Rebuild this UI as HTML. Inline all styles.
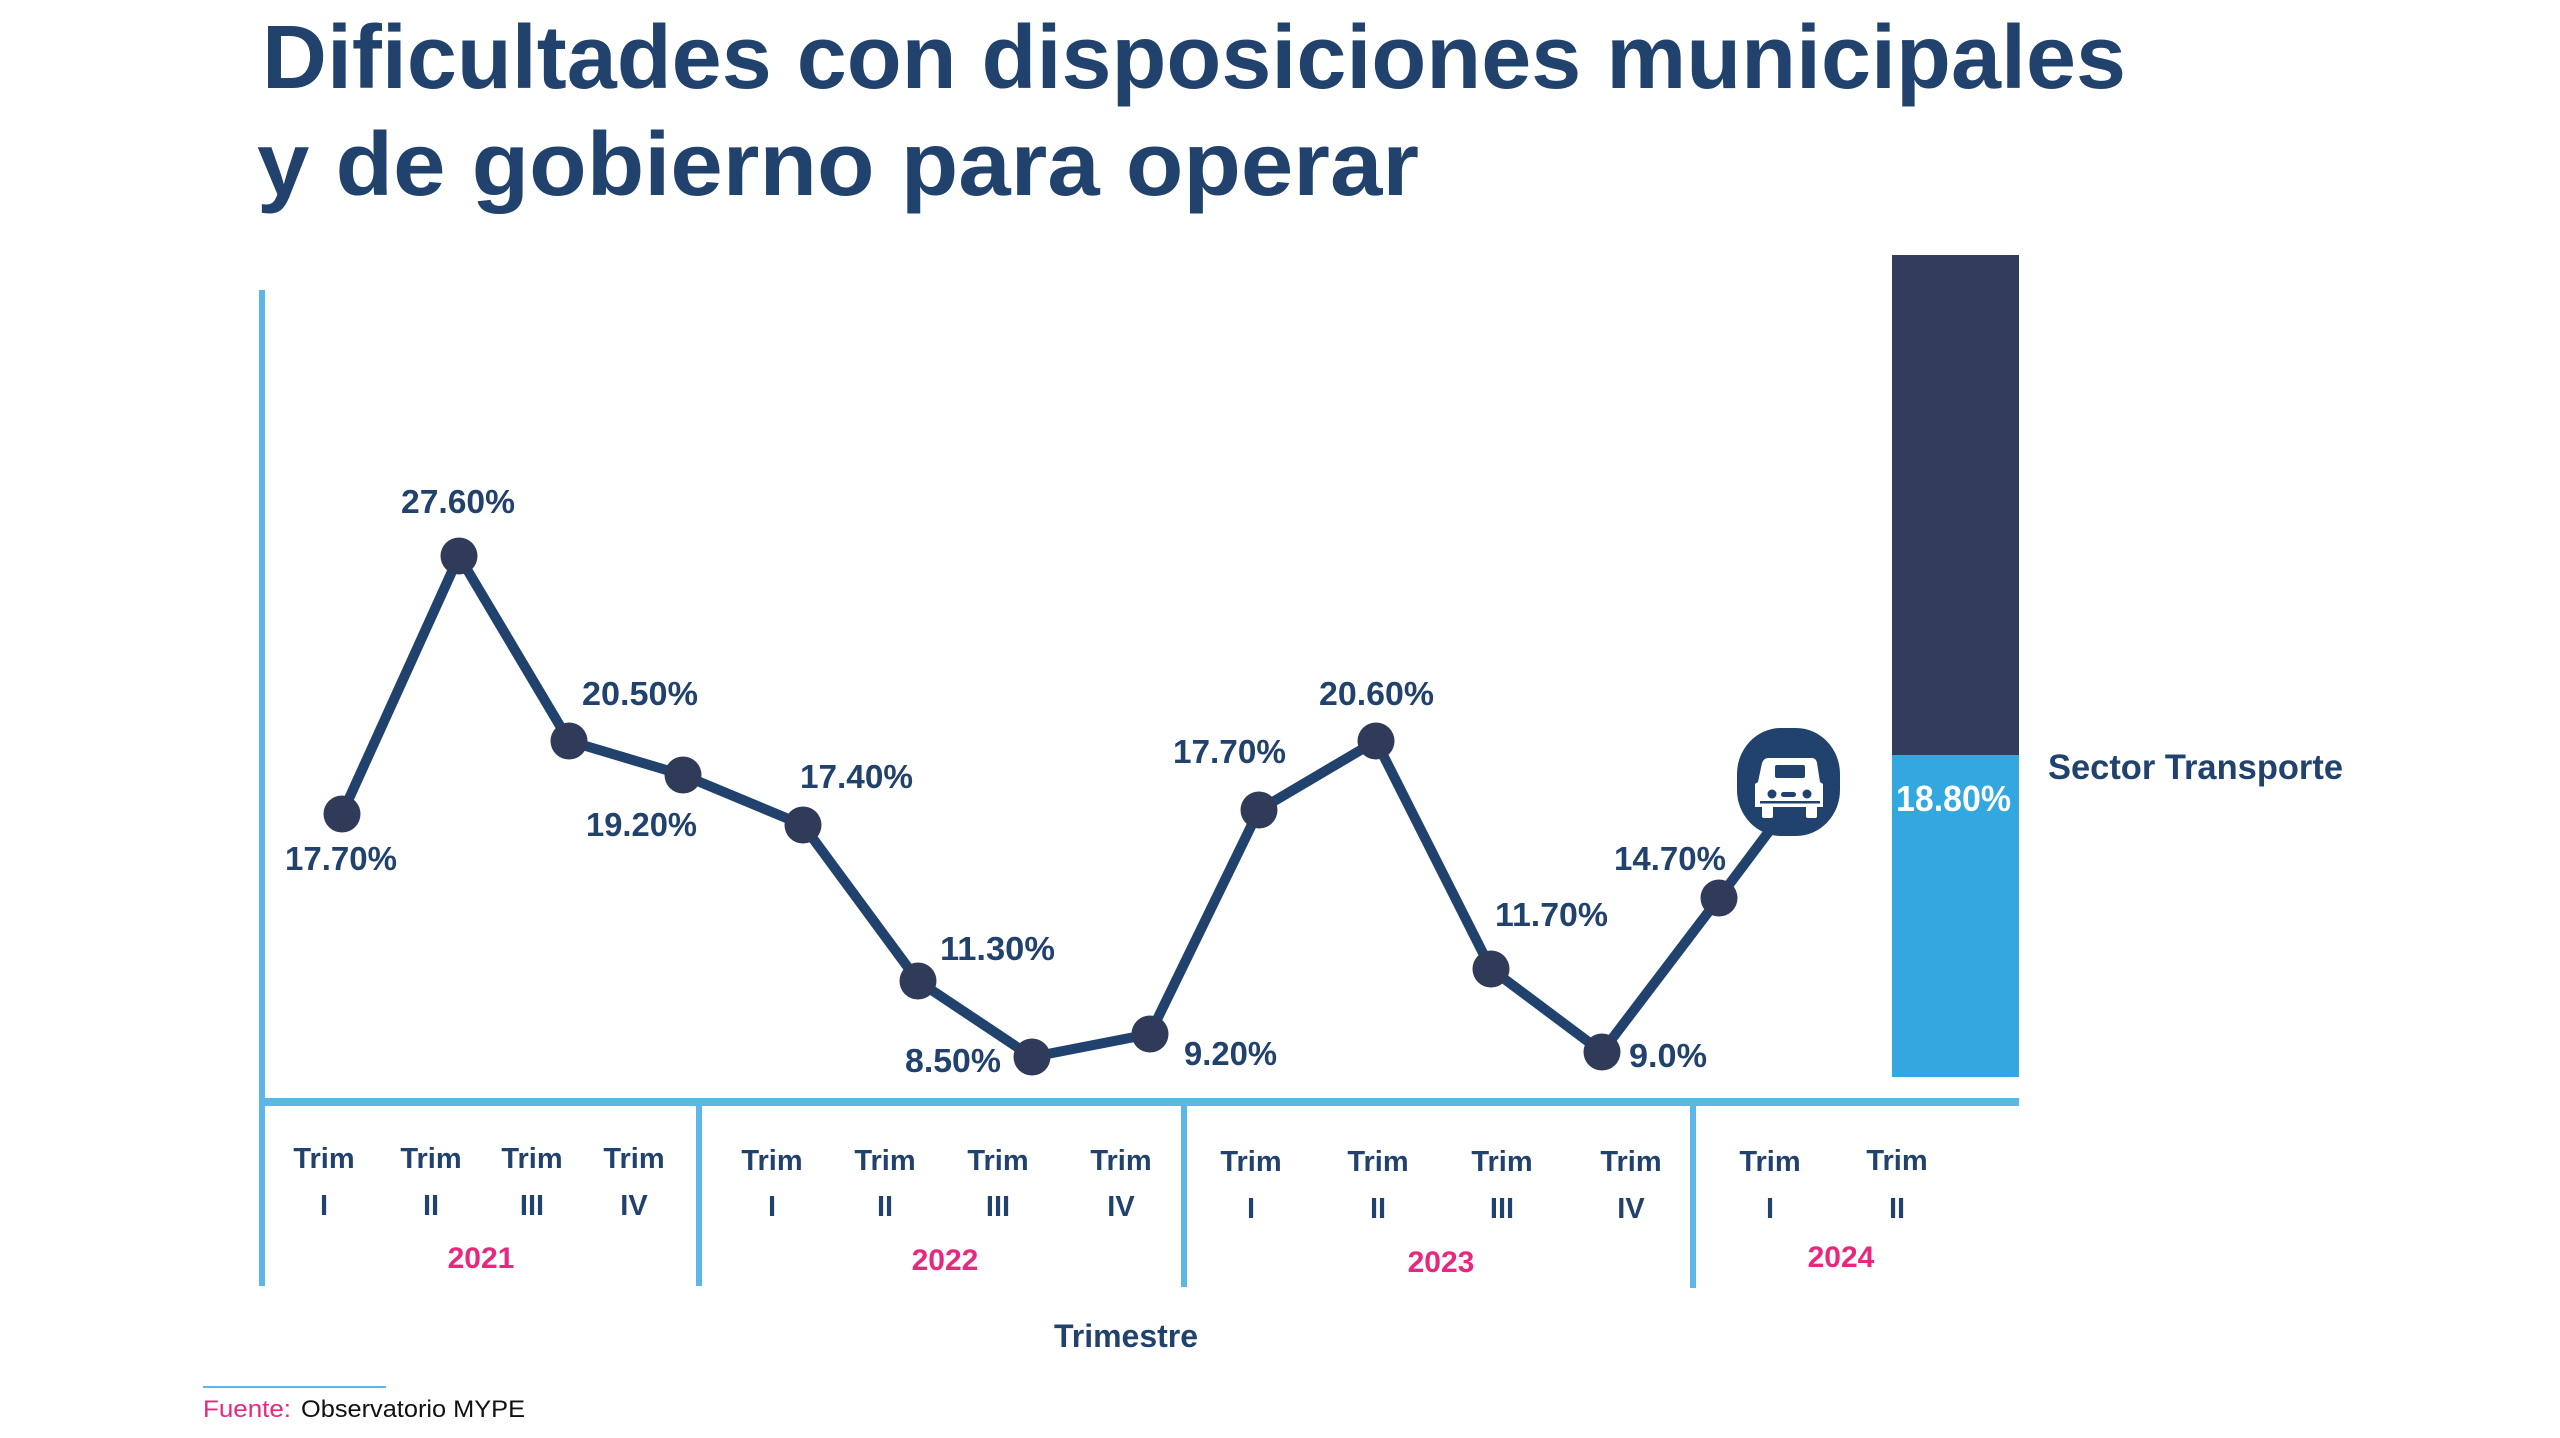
<!DOCTYPE html>
<html><head><meta charset="utf-8">
<style>
html,body{margin:0;padding:0;background:#fff;}
svg{display:block;}
text{font-family:"Liberation Sans",Arial,sans-serif;}
</style></head>
<body>
<svg width="2560" height="1438" viewBox="0 0 2560 1438" xmlns="http://www.w3.org/2000/svg">
<rect width="2560" height="1438" fill="#ffffff"/>
<!-- Title -->
<text x="262" y="88" font-size="90" font-weight="bold" fill="#22426e" textLength="1864" lengthAdjust="spacingAndGlyphs">Dificultades con disposiciones municipales</text>
<text x="257" y="195" font-size="90" font-weight="bold" fill="#22426e" textLength="1162" lengthAdjust="spacingAndGlyphs">y de gobierno para operar</text>

<!-- Axes -->
<rect x="259" y="290" width="6" height="996" fill="#5db7e6"/>
<rect x="259" y="1098" width="1760" height="8" fill="#5db7e6"/>
<rect x="696" y="1100" width="6" height="186" fill="#5db7e6"/>
<rect x="1181" y="1100" width="6" height="187" fill="#5db7e6"/>
<rect x="1690" y="1100" width="6" height="188" fill="#5db7e6"/>

<!-- Bar -->
<rect x="1892" y="255" width="127" height="500" fill="#323d5b"/>
<rect x="1892" y="755" width="127" height="322" fill="#33a7df"/>
<text x="1896" y="811" font-size="36" font-weight="bold" fill="#ffffff" textLength="115" lengthAdjust="spacingAndGlyphs">18.80%</text>
<text x="2048" y="779" font-size="35" font-weight="bold" fill="#22426e" textLength="295" lengthAdjust="spacingAndGlyphs">Sector Transporte</text>

<!-- Line -->
<polyline fill="none" stroke="#22426e" stroke-width="10" stroke-linejoin="round"
 points="342,814 459,556 569,741 683,775 803,825 918,981 1032,1057 1150,1034 1259,810 1376,741 1491,969 1602,1052 1719,898 1800,790"/>
<g fill="#303b5a">
<circle cx="342" cy="814" r="18.5"/>
<circle cx="459" cy="556" r="18.5"/>
<circle cx="569" cy="741" r="18.5"/>
<circle cx="683" cy="775" r="18.5"/>
<circle cx="803" cy="825" r="18.5"/>
<circle cx="918" cy="981" r="18.5"/>
<circle cx="1032" cy="1057" r="18.5"/>
<circle cx="1150" cy="1034" r="18.5"/>
<circle cx="1259" cy="810" r="18.5"/>
<circle cx="1376" cy="741" r="18.5"/>
<circle cx="1491" cy="969" r="18.5"/>
<circle cx="1602" cy="1052" r="18.5"/>
<circle cx="1719" cy="898" r="18.5"/>
</g>

<!-- Car icon -->
<rect x="1737" y="728" width="103" height="108" rx="44" ry="46" fill="#22426e"/>
<g fill="#ffffff">
<path d="M1768,758 L1812,758 Q1816,758 1817,763 L1820,782 L1823,784 L1823,807 L1755,807 L1755,784 L1758,782 L1762,763 Q1764,758 1768,758 Z"/>
<rect x="1762" y="805" width="11" height="13" rx="2"/>
<rect x="1806" y="805" width="11" height="13" rx="2"/>
</g>
<rect x="1775" y="765" width="30" height="13" rx="2" fill="#22426e"/>
<circle cx="1772" cy="794" r="4.5" fill="#22426e"/>
<circle cx="1807" cy="794" r="4.5" fill="#22426e"/>
<rect x="1781" y="792" width="15" height="5" rx="2.5" fill="#22426e"/>
<rect x="1760" y="801" width="60" height="2.5" fill="#22426e"/>

<!-- Data labels -->
<g font-size="33" font-weight="bold" fill="#22426e">
<text x="285" y="870" textLength="112" lengthAdjust="spacingAndGlyphs">17.70%</text>
<text x="401" y="513" textLength="114" lengthAdjust="spacingAndGlyphs">27.60%</text>
<text x="582" y="705" textLength="116" lengthAdjust="spacingAndGlyphs">20.50%</text>
<text x="586" y="836" textLength="111" lengthAdjust="spacingAndGlyphs">19.20%</text>
<text x="800" y="788" textLength="113" lengthAdjust="spacingAndGlyphs">17.40%</text>
<text x="940" y="960" textLength="115" lengthAdjust="spacingAndGlyphs">11.30%</text>
<text x="905" y="1072" textLength="96" lengthAdjust="spacingAndGlyphs">8.50%</text>
<text x="1184" y="1065" textLength="93" lengthAdjust="spacingAndGlyphs">9.20%</text>
<text x="1173" y="763" textLength="113" lengthAdjust="spacingAndGlyphs">17.70%</text>
<text x="1319" y="705" textLength="115" lengthAdjust="spacingAndGlyphs">20.60%</text>
<text x="1495" y="926" textLength="113" lengthAdjust="spacingAndGlyphs">11.70%</text>
<text x="1629" y="1067" textLength="78" lengthAdjust="spacingAndGlyphs">9.0%</text>
<text x="1614" y="870" textLength="112" lengthAdjust="spacingAndGlyphs">14.70%</text>
</g>

<!-- Tick labels -->
<g font-size="29" font-weight="bold" fill="#22426e" text-anchor="middle">
<text x="324" y="1168">Trim</text><text x="324" y="1215">I</text>
<text x="431" y="1168">Trim</text><text x="431" y="1215">II</text>
<text x="532" y="1168">Trim</text><text x="532" y="1215">III</text>
<text x="634" y="1168">Trim</text><text x="634" y="1215">IV</text>
<text x="772" y="1170">Trim</text><text x="772" y="1216">I</text>
<text x="885" y="1170">Trim</text><text x="885" y="1216">II</text>
<text x="998" y="1170">Trim</text><text x="998" y="1216">III</text>
<text x="1121" y="1170">Trim</text><text x="1121" y="1216">IV</text>
<text x="1251" y="1171">Trim</text><text x="1251" y="1218">I</text>
<text x="1378" y="1171">Trim</text><text x="1378" y="1218">II</text>
<text x="1502" y="1171">Trim</text><text x="1502" y="1218">III</text>
<text x="1631" y="1171">Trim</text><text x="1631" y="1218">IV</text>
<text x="1770" y="1171">Trim</text><text x="1770" y="1218">I</text>
<text x="1897" y="1170">Trim</text><text x="1897" y="1218">II</text>
</g>
<g font-size="30" font-weight="bold" fill="#e6287f" text-anchor="middle">
<text x="481" y="1268">2021</text>
<text x="945" y="1270">2022</text>
<text x="1441" y="1272">2023</text>
<text x="1841" y="1267">2024</text>
</g>
<text x="1126" y="1347" font-size="32" font-weight="bold" fill="#22426e" text-anchor="middle">Trimestre</text>

<!-- Footer -->
<rect x="203" y="1386" width="183" height="2" fill="#5db7e6"/>
<text x="203" y="1417" font-size="24" fill="#e6287f" textLength="88" lengthAdjust="spacingAndGlyphs">Fuente:</text>
<text x="301" y="1417" font-size="24" fill="#111111" textLength="224" lengthAdjust="spacingAndGlyphs">Observatorio MYPE</text>
</svg>
</body></html>
